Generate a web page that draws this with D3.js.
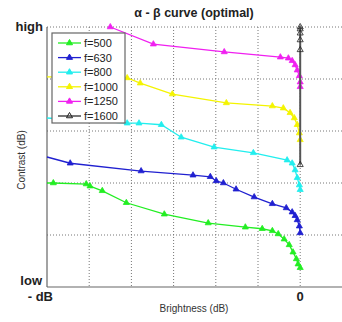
<!DOCTYPE html>
<html>
<head>
<meta charset="utf-8">
<script src="https://cdn.jsdelivr.net/npm/d3@7"></script>
<style>
  body { margin: 0; background: #fff; }
  text { font-family: "Liberation Sans", Arial, sans-serif; }
</style>
</head>
<body>
<svg width="342" height="322" id="mainsvg"></svg>
<script>
// brightness (dB, 0 = max) vs contrast (arbitrary units, low..high)
const f500x  = [-6.0, -5.85, -5.07, -4.98, -4.69, -4.12, -3.22, -2.18, -1.30, -0.90, -0.66, -0.52, -0.38, -0.26, -0.17, -0.09, -0.05, 0];
const f500y  = [2.0, 2.0, 1.98, 1.94, 1.85, 1.62, 1.40, 1.23, 1.15, 1.12, 1.08, 1.02, 0.92, 0.81, 0.67, 0.54, 0.44, 0.37];
const f630x  = [-6.0, -5.45, -3.77, -2.54, -2.13, -1.99, -1.82, -1.52, -1.09, -0.66, -0.33, -0.19, -0.12, -0.07, -0.02, 0];
const f630y  = [2.50, 2.38, 2.23, 2.15, 2.12, 2.04, 2.00, 1.88, 1.73, 1.60, 1.52, 1.44, 1.37, 1.29, 1.17, 1.04];
const f800x  = [-6.0, -4.10, -3.82, -3.29, -2.82, -2.04, -1.11, -0.31, -0.19, -0.12, -0.07, -0.02, 0];
const f800y  = [3.25, 3.15, 3.15, 3.12, 2.88, 2.69, 2.58, 2.44, 2.38, 2.25, 2.10, 1.96, 1.87];
const f1000x = [-6.0, -4.10, -3.79, -3.03, -1.75, -0.66, -0.40, -0.24, -0.14, -0.07, -0.02, 0];
const f1000y = [4.04, 4.02, 3.92, 3.71, 3.54, 3.48, 3.44, 3.35, 3.25, 3.12, 2.96, 2.83];
const f1250x = [-4.50, -3.48, -1.80, -0.47, -0.28, -0.19, -0.12, -0.07, -0.02, 0, 0];
const f1250y = [5.00, 4.67, 4.52, 4.42, 4.40, 4.35, 4.27, 4.17, 4.06, 3.94, 3.85];
const f1600x = [0, 0, 0, 0, 0, 0];
const f1600y = [5.0, 4.96, 4.88, 4.75, 4.56, 2.35];

const seriesNames  = ['f=500', 'f=630', 'f=800', 'f=1000', 'f=1250', 'f=1600'];
const seriesColors = ['#22ee22', '#2020d0', '#22eeee', '#f4f400', '#f020f0', '#555555'];

const svg = d3.select('svg');
const x = d3.scaleLinear().domain([-6, 1]).range([47, 342.4]);
const y = d3.scaleLinear().domain([0, 5]).range([287, 27]);

const series = [
  [f500x, f500y], [f630x, f630y], [f800x, f800y],
  [f1000x, f1000y], [f1250x, f1250y], [f1600x, f1600y]
].map(([xs, ys], i) => ({
  name: seriesNames[i], color: seriesColors[i],
  pts: xs.map((v, j) => [v, ys[j]])
}));

// grid
svg.append('g').selectAll('line').data([-5, -4, -3, -2, -1, 0]).join('line')
  .attr('x1', d => x(d)).attr('x2', d => x(d))
  .attr('y1', y(5)).attr('y2', y(0))
  .attr('stroke', '#777').attr('stroke-dasharray', '1,2');
svg.append('g').selectAll('line').data([1, 2, 3, 4, 5]).join('line')
  .attr('x1', x(-6)).attr('x2', x(1))
  .attr('y1', d => y(d)).attr('y2', d => y(d))
  .attr('stroke', '#777').attr('stroke-dasharray', '1,2');

// axes
svg.append('line').attr('x1', x(-6)).attr('x2', x(-6)).attr('y1', y(5)).attr('y2', y(0))
  .attr('stroke', '#666').attr('stroke-width', 1.2);
svg.append('line').attr('x1', x(-6)).attr('x2', x(1)).attr('y1', y(0)).attr('y2', y(0))
  .attr('stroke', '#666').attr('stroke-width', 1.2);

const line = d3.line().x(d => x(d[0])).y(d => y(d[1]));
const tri = d3.symbol(d3.symbolTriangle, 16);

series.forEach((s, i) => {
  const g = svg.append('g');
  g.append('path').attr('d', line(s.pts)).attr('fill', 'none')
    .attr('stroke', s.color).attr('stroke-width', i === 5 ? 2 : 1.3);
  // the curves that start on the left axis carry no marker there
  const marked = s.pts.filter(d => d[0] > -6);
  g.selectAll('path.m').data(marked).join('path').attr('class', 'm')
    .attr('d', tri)
    .attr('transform', d => `translate(${x(d[0])},${y(d[1])})`)
    .attr('fill', i === 5 ? 'none' : s.color)
    .attr('stroke', i === 5 ? '#222' : s.color).attr('stroke-width', 0.8);
});

// legend
const lg = svg.append('g');
lg.append('rect').attr('x', 52).attr('y', 33).attr('width', 73).attr('height', 90)
  .attr('fill', '#fff').attr('stroke', '#666').attr('stroke-width', 1.2);
series.forEach((s, i) => {
  const ly = 43 + i * 14.6;
  lg.append('line').attr('x1', 58).attr('x2', 81).attr('y1', ly).attr('y2', ly)
    .attr('stroke', s.color).attr('stroke-width', i === 5 ? 1.6 : 1.3);
  lg.append('path').attr('d', tri).attr('transform', `translate(69.5,${ly})`)
    .attr('fill', i === 5 ? 'none' : s.color).attr('stroke', i === 5 ? '#222' : s.color);
  lg.append('text').attr('x', 84).attr('y', ly + 4).attr('font-size', 11)
    .attr('fill', '#222').text(s.name);
});

// texts
svg.append('text').attr('x', 194).attr('y', 17).attr('text-anchor', 'middle')
  .attr('font-size', 12.5).attr('font-weight', 'bold').attr('fill', '#222')
  .text('α - β curve (optimal)');
svg.append('text').attr('x', 43).attr('y', 31).attr('text-anchor', 'end')
  .attr('font-size', 13).attr('font-weight', 'bold').attr('fill', '#222').text('high');
svg.append('text').attr('x', 42).attr('y', 285).attr('text-anchor', 'end')
  .attr('font-size', 13).attr('font-weight', 'bold').attr('fill', '#222').text('low');
svg.append('text').attr('x', 53).attr('y', 301).attr('text-anchor', 'end')
  .attr('font-size', 13).attr('font-weight', 'bold').attr('fill', '#222').text('- dB');
svg.append('text').attr('x', x(0)).attr('y', 301).attr('text-anchor', 'middle')
  .attr('font-size', 13).attr('font-weight', 'bold').attr('fill', '#222').text('0');
svg.append('text').attr('x', 194).attr('y', 312).attr('text-anchor', 'middle')
  .attr('font-size', 10).attr('fill', '#333').text('Brightness (dB)');
svg.append('text').attr('transform', 'translate(25,160) rotate(-90)').attr('text-anchor', 'middle')
  .attr('font-size', 10).attr('fill', '#333').text('Contrast  (dB)');
</script>
</body>
</html>
